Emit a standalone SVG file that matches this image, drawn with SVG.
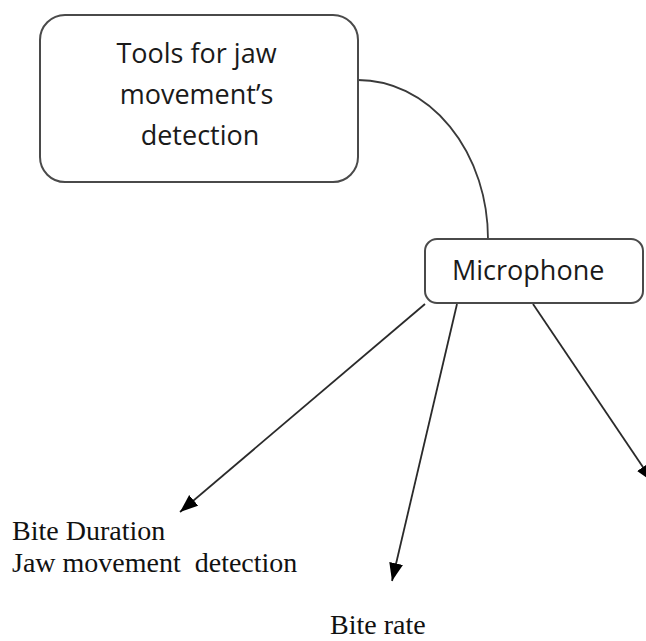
<svg xmlns="http://www.w3.org/2000/svg" width="646" height="641" viewBox="0 0 646 641">
  <style>
    .box { fill: #ffffff; stroke: #4a4a4a; stroke-width: 2; }
    .node-text { font-family: "Open Sans", "Noto Sans", sans-serif; font-size: 27px; fill: #1a1a1a; }
    .label { font-family: "Liberation Serif", "Times New Roman", serif; font-size: 28px; fill: #111111; }
    .link { fill: none; stroke: #3a3a3a; stroke-width: 1.8; }
    .arrow { fill: none; stroke: #2a2a2a; stroke-width: 1.8; marker-end: url(#head); }
  </style>
  <defs>
    <marker id="head" markerUnits="userSpaceOnUse" markerWidth="20" markerHeight="16" refX="18" refY="7" orient="auto">
      <path d="M0,0 L18,7 L0,14 Z" fill="#000000"/>
    </marker>
  </defs>

  <rect width="646" height="641" fill="#ffffff"/>

  <g id="connectors">
    <path class="link" d="M358,80 A130,159 0 0 1 488,239"/>
    <path class="arrow" d="M425,304 L180,512"/>
    <path class="arrow" d="M457,304 L392,581"/>
    <path class="arrow" d="M533,304 L653,482"/>
  </g>

  <g id="tools-node">
    <rect class="box" x="40" y="15" width="318" height="167" rx="25" ry="25"/>
    <text class="node-text" text-anchor="middle">
      <tspan x="200" y="63">Tools for jaw</tspan>
      <tspan x="200" y="104">movement’s</tspan>
      <tspan x="200" y="145">detection</tspan>
    </text>
  </g>

  <g id="microphone-node">
    <rect class="box" x="425" y="239" width="218" height="64" rx="12" ry="12"/>
    <text class="node-text" x="452" y="280">Microphone</text>
  </g>

  <g id="bite-duration">
    <text class="label" x="12" y="540">Bite Duration</text>
    <text class="label" x="12" y="572" xml:space="preserve">Jaw movement  detection</text>
  </g>

  <g id="bite-rate">
    <text class="label" x="330" y="634">Bite rate</text>
  </g>
</svg>
